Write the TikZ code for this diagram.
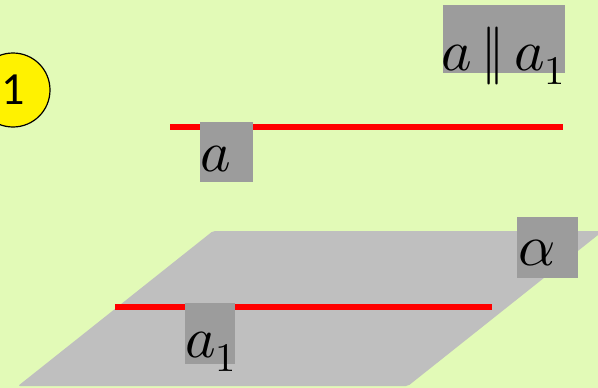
\documentclass[tikz,border=0pt]{standalone}
\usepackage{fontspec}
\usepackage{unicode-math}
\setmathfont{Latin Modern Math}
\newfontfamily\carlito{Carlito}
\definecolor{bg}{RGB}{226,250,183}
\definecolor{plane}{RGB}{191,191,191}
\definecolor{labelgray}{RGB}{156,156,156}
\definecolor{redline}{RGB}{255,0,0}
\tikzset{
  labelbox/.style={rectangle, fill=labelgray, inner sep=0pt},
  labeltext/.style={inner sep=0pt, anchor=base west, font=\fontsize{58}{62}\selectfont},
  redstroke/.style={draw=redline, line width=6.5pt},
}
\begin{document}
\begin{tikzpicture}[x=1pt,y=-1pt]
\fill[bg] (0,0) rectangle (598,388);
\useasboundingbox (0,0) rectangle (598,388);
% plane
\fill[plane, rounded corners=2pt] (213,231) -- (603,231) -- (408,386) -- (18,386) -- cycle;
% number circle
\node[circle, draw=black, line width=1.2pt, fill=yellow, minimum size=74pt, inner sep=0pt,
  font=\carlito\fontsize{46}{50}\selectfont] (num) at (13,90) {1};
% lines
\coordinate (aL) at (170,127);
\coordinate (aR) at (563,127);
\coordinate (bL) at (115,307);
\coordinate (bR) at (492,307);
\draw[redstroke] (aL) -- (aR);
\draw[redstroke] (bL) -- (bR);
% label boxes
\node[labelbox, minimum width=122pt, minimum height=68pt] (boxpar) at (504,39) {};
\node[labelbox, minimum width=53pt, minimum height=60pt] (boxa) at (226.5,152) {};
\node[labelbox, minimum width=61pt, minimum height=61pt] (boxalpha) at (547.5,247.5) {};
\node[labelbox, minimum width=50pt, minimum height=61pt] (boxa1) at (210,333.5) {};
% texts
\node[labeltext] (tpar) at (441,70) {$a\,\|\,a_{\scriptstyle 1}$};
\node[labeltext] (ta) at (200,171) {$a$};
\node[labeltext] (talpha) at (518,265) {$\alpha$};
\node[labeltext] (ta1) at (185,357) {$a_1$};
\end{tikzpicture}
\end{document}
